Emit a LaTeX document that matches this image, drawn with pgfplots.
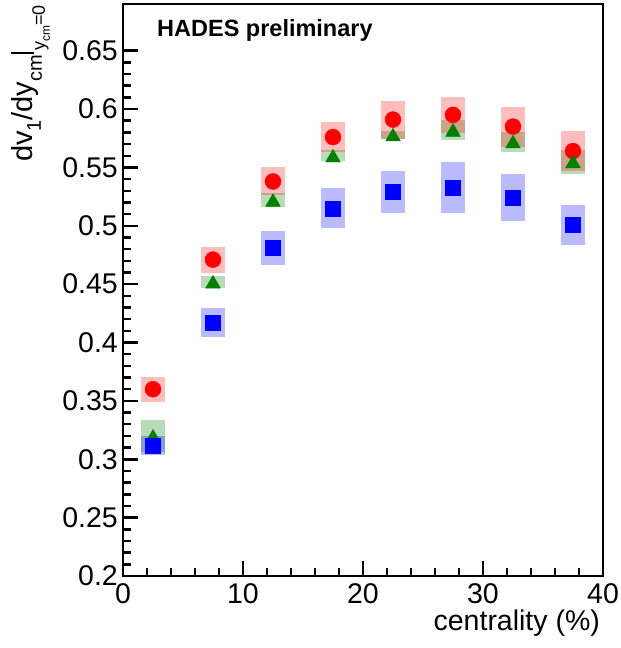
\documentclass[border=0pt]{standalone}
\usepackage{pgfplots}
\pgfplotsset{compat=1.18}
\usepackage{pgfplotstable}
\usepackage{fontspec}
\setmainfont{Liberation Sans}
\pgfplotstableread{
x r er g eg b eb
2.5 0.360 0.0107 0.320 0.0136 0.312 0.0081
7.5 0.471 0.0111 0.452 0.0050 0.417 0.0124
12.5 0.538 0.0120 0.522 0.0063 0.481 0.0146
17.5 0.576 0.0129 0.560 0.0047 0.515 0.0171
22.5 0.591 0.0163 0.578 0.0034 0.529 0.0180
27.5 0.595 0.0154 0.582 0.0086 0.533 0.0219
32.5 0.585 0.0171 0.572 0.0086 0.524 0.0200
37.5 0.564 0.0171 0.555 0.0103 0.501 0.0171
}\data
\begin{document}
\begin{tikzpicture}
\useasboundingbox (-123bp,-72bp) rectangle (498bp,576bp);
\begin{axis}[
  at={(0,0)}, anchor=south west,
  scale only axis, width=480bp, height=572bp,
  xmin=0, xmax=40, ymin=0.2, ymax=0.69,
  xtick={0,10,20,30,40}, xticklabels={0,10,20,30,40},
  ytick={0.2,0.25,0.3,0.35,0.4,0.45,0.5,0.55,0.6,0.65},
  yticklabels={0.2,0.25,0.3,0.35,0.4,0.45,0.5,0.55,0.6,0.65},
  minor x tick num=4, minor y tick num=4,
  tick align=inside, tick pos=left,
  major tick length=15bp, minor tick length=8bp,
  axis line style={line width=2.5bp},
  every tick/.append style={line width=2.5bp, black},
  /pgf/number format/assume math mode=true,
  tick label style={font=\fontsize{28.5bp}{28.5bp}\selectfont, inner sep=0pt},
  every y tick label/.append style={anchor=east, xshift=-5bp},
  every x tick label/.append style={anchor=north, yshift=-7bp},
  xlabel={centrality (\%)},
  xlabel style={at={(axis description cs:0.994,-0.0945)}, anchor=base east, inner sep=0pt, font=\fontsize{28.5bp}{28.5bp}\selectfont},
  ylabel={dv\raisebox{-8bp}{\fontsize{20bp}{20bp}\selectfont 1}/dy\raisebox{-9bp}{\fontsize{20bp}{20bp}\selectfont cm}\hspace{1bp}\rule[-1bp]{2bp}{23bp}\hspace{1bp}\raisebox{-12bp}{\fontsize{18bp}{18bp}\selectfont y\raisebox{-5bp}{\fontsize{12bp}{12bp}\selectfont cm}=0}},
  ylabel style={at={(axis description cs:-0.1875,0.998)}, anchor=base east, rotate=0, inner sep=0pt, font=\fontsize{29bp}{29bp}\selectfont},
]
% systematic boxes
\addplot[only marks, mark=none, forget plot,
  error bars/.cd, y dir=both, y explicit, error mark=none,
  error bar style={line width=24bp, color=green!50!black, opacity=0.28}]
  table[x=x, y=g, y error=eg]{\data};
\addplot[only marks, mark=none, forget plot,
  error bars/.cd, y dir=both, y explicit, error mark=none,
  error bar style={line width=24bp, color=red, opacity=0.26}]
  table[x=x, y=r, y error=er]{\data};
\addplot[only marks, mark=none, forget plot,
  error bars/.cd, y dir=both, y explicit, error mark=none,
  error bar style={line width=24bp, color=blue, opacity=0.27}]
  table[x=x, y=b, y error=eb]{\data};
% markers
\addplot[only marks, mark=*, mark size=8bp, color=red, mark options={draw=red, fill=red}]
  table[x=x, y=r]{\data};
\addplot[only marks, mark=triangle*, mark size=8.5bp, color=green!50!black, mark options={draw=green!50!black, fill=green!50!black, yshift=-2bp}]
  table[x=x, y=g]{\data};
\addplot[only marks, mark=square*, mark size=7.5bp, color=blue, mark options={draw=blue, fill=blue}]
  table[x=x, y=b]{\data};
\node[anchor=base west, inner sep=0pt, font=\bfseries\fontsize{23.5bp}{23.5bp}\selectfont] at (axis description cs:0.0708,0.9423) {HADES preliminary};
\end{axis}
\end{tikzpicture}
\end{document}
